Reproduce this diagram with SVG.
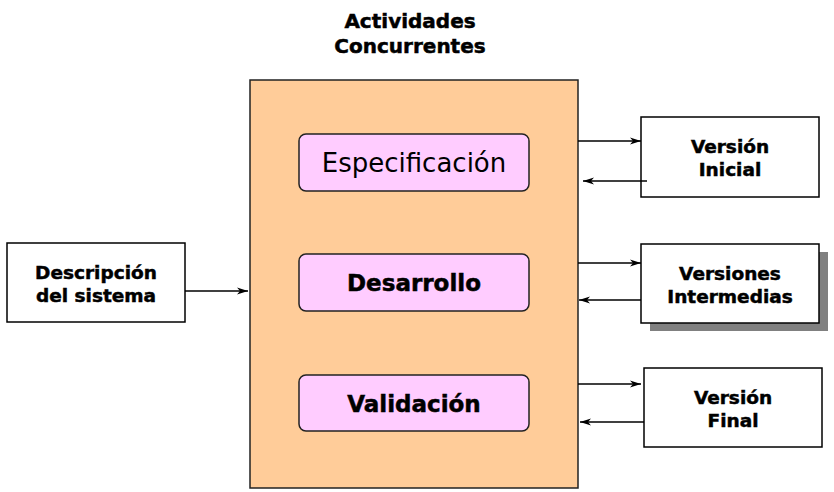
<svg xmlns="http://www.w3.org/2000/svg" width="834" height="492" viewBox="0 0 834 492">
<defs>
<style>
.box{fill:#fff;stroke:#000;stroke-width:1.5}
.main{fill:#ffcc99;stroke:#222;stroke-width:1.5}
.act{fill:#ffccff;stroke:#222;stroke-width:1.5}
.t{font-family:"DejaVu Sans",Verdana,sans-serif;font-weight:bold;text-anchor:middle;fill:#000;stroke:#000;stroke-width:0.5}
.edge{stroke:#000;stroke-width:1.3;fill:none;marker-end:url(#ah)}
</style>
<marker id="ah" markerWidth="12" markerHeight="8" refX="11" refY="4" orient="auto" markerUnits="userSpaceOnUse">
<path d="M0,0.5 L11,4 L0,7.5 L3,4 Z" fill="#000"/>
</marker>
</defs>
<rect width="834" height="492" fill="#fff"/>
<g id="title">
<text class="t" x="410" y="28" font-size="20">Actividades</text>
<text class="t" x="410" y="53" font-size="20">Concurrentes</text>
</g>
<g id="main">
<rect class="main" x="250" y="80" width="328" height="408"/>
</g>
<g id="especificacion">
<rect class="act" x="299" y="134" width="230" height="57" rx="7"/>
<text x="414" y="172" font-size="26" font-family="DejaVu Sans,Verdana,sans-serif" text-anchor="middle" fill="#000">Especificación</text>
</g>
<g id="desarrollo">
<rect class="act" x="299" y="254" width="230" height="57" rx="7"/>
<text class="t" x="414" y="291" font-size="23">Desarrollo</text>
</g>
<g id="validacion">
<rect class="act" x="299" y="375" width="230" height="56" rx="7"/>
<text class="t" x="414" y="412" font-size="23">Validación</text>
</g>
<g id="descripcion">
<rect class="box" x="7" y="243" width="178" height="79"/>
<text class="t" x="96" y="279" font-size="18.5">Descripción</text>
<text class="t" x="96" y="302" font-size="18.5">del sistema</text>
</g>
<g id="version-inicial">
<rect class="box" x="641" y="117" width="178" height="80"/>
<text class="t" x="730" y="153" font-size="18.5">Versión</text>
<text class="t" x="730" y="176" font-size="18.5">Inicial</text>
</g>
<g id="versiones-intermedias">
<rect x="650" y="252" width="178" height="79" fill="#808080"/>
<rect class="box" x="641" y="244" width="178" height="79"/>
<text class="t" x="730" y="280" font-size="18.5">Versiones</text>
<text class="t" x="730" y="303" font-size="18.5">Intermedias</text>
</g>
<g id="version-final">
<rect class="box" x="644" y="368" width="178" height="79"/>
<text class="t" x="733" y="404" font-size="18.5">Versión</text>
<text class="t" x="733" y="427" font-size="18.5">Final</text>
</g>
<g id="connectors">
<line class="edge" x1="185" y1="291" x2="248" y2="291"/>
<line class="edge" x1="578" y1="141" x2="641" y2="141"/>
<line class="edge" x1="647" y1="181" x2="583" y2="181"/>
<line class="edge" x1="578" y1="263" x2="641" y2="263"/>
<line class="edge" x1="641" y1="300" x2="579" y2="300"/>
<line class="edge" x1="578" y1="384" x2="641" y2="384"/>
<line class="edge" x1="644" y1="422" x2="580" y2="422"/>
</g>
</svg>
